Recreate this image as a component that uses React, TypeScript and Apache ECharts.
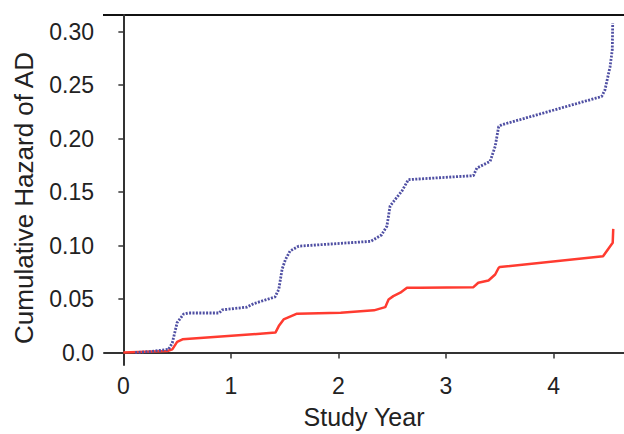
import React, { useEffect, useRef } from "react";
import * as echarts from "echarts";

const blueYears = [0.11, 0.25, 0.42, 0.455, 0.5, 0.56, 0.6, 0.89, 0.92, 1.15, 1.21, 1.41, 1.445, 1.476, 1.507, 1.55, 1.63, 2.3, 2.4, 2.45, 2.48, 2.51, 2.59, 2.65, 3.255, 3.287, 3.41, 3.457, 3.49, 3.52, 4.447, 4.478, 4.525, 4.546, 4.55];
const blueHazard = [0, 0.001, 0.003, 0.009, 0.028, 0.036, 0.037, 0.037, 0.04, 0.0425, 0.0457, 0.052, 0.059, 0.078, 0.087, 0.095, 0.0995, 0.104, 0.11, 0.118, 0.137, 0.141, 0.151, 0.1617, 0.1654, 0.1726, 0.1787, 0.1927, 0.2114, 0.213, 0.2394, 0.2456, 0.267, 0.283, 0.308];

const redYears = [0, 0.41, 0.455, 0.5, 0.55, 1.414, 1.445, 1.49, 1.615, 2.02, 2.33, 2.435, 2.466, 2.51, 2.575, 2.637, 2.76, 3.255, 3.3, 3.395, 3.457, 3.49, 3.5, 4.46, 4.51, 4.55, 4.555];
const redHazard = [0, 0.0015, 0.003, 0.01, 0.0124, 0.0187, 0.0248, 0.031, 0.0364, 0.0373, 0.0395, 0.0425, 0.0497, 0.0528, 0.056, 0.0606, 0.0606, 0.0612, 0.0653, 0.0674, 0.073, 0.0793, 0.08, 0.09, 0.097, 0.1026, 0.1157];

const xTicks = [0, 1, 2, 3, 4];
const yTicks = [0, 0.05, 0.1, 0.15, 0.2, 0.25, 0.3];

const xTitle = "Study Year";
const yTitle = "Cumulative Hazard of AD";

const FONT = "'Liberation Sans', Arial, Helvetica, sans-serif";

export default function App() {
  const ref = useRef<HTMLDivElement>(null);
  useEffect(() => {
    if (!ref.current) return;
    const chart = echarts.init(ref.current, null, { renderer: "svg" });
    const zip = (xs: number[], ys: number[]) => xs.map((x, i) => [x, ys[i]]);
    const axisLine = { show: true, lineStyle: { color: "#333", width: 2 } };
    chart.setOption({
      animation: false,
      backgroundColor: "#fff",
      grid: { left: 104, top: 15, right: 0, bottom: 68, containLabel: false },
      xAxis: {
        type: "value",
        min: -0.18,
        max: 4.655,
        axisLine,
        splitLine: { show: false },
        axisTick: { show: true, length: 6, customValues: xTicks, lineStyle: { color: "#333", width: 1.5 } },
        axisLabel: {
          customValues: xTicks,
          margin: 9,
          color: "#222",
          fontSize: 23,
          fontFamily: FONT,
          formatter: (v: number) => String(v),
        },
        name: xTitle,
        nameLocation: "middle",
        nameGap: 39,
        nameTextStyle: { color: "#222", fontSize: 25, fontFamily: FONT },
      },
      yAxis: {
        type: "value",
        min: -0.0116,
        max: 0.3156,
        axisLine,
        splitLine: { show: false },
        axisTick: { show: true, length: 5, customValues: yTicks, lineStyle: { color: "#333", width: 1.5 } },
        axisLabel: {
          customValues: yTicks,
          margin: 10,
          color: "#222",
          fontSize: 23,
          fontFamily: FONT,
          formatter: (v: number) => (v === 0 ? "0.0" : v.toFixed(2)),
        },
      },
      graphic: [
        {
          type: "line",
          shape: { x1: 103, y1: 15, x2: 624, y2: 15 },
          style: { stroke: "#111", lineWidth: 2 },
          silent: true,
        },
        {
          type: "text",
          x: 24,
          y: 198,
          rotation: Math.PI / 2,
          style: {
            text: yTitle,
            fill: "#222",
            font: `26px ${FONT}`,
            textAlign: "center",
            textVerticalAlign: "middle",
          },
          silent: true,
        },
      ],
      series: [
        {
          type: "line",
          data: zip(blueYears, blueHazard),
          showSymbol: false,
          lineStyle: { color: "#4f4fa3", width: 2.8, type: [2, 1.4], cap: "butt" },
          z: 3,
        },
        {
          type: "line",
          data: zip(redYears, redHazard),
          showSymbol: false,
          lineStyle: { color: "#ff3b30", width: 2.5 },
          z: 2,
        },
      ],
    });
    return () => chart.dispose();
  }, []);
  return <div ref={ref} style={{ position: "fixed", left: 0, top: 0, width: 624, height: 434 }} />;
}
